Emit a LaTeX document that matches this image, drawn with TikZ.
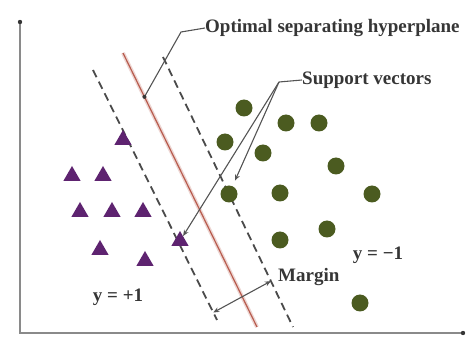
\documentclass[tikz,border=0pt]{standalone}
\usepackage{fontspec}
\setmainfont{Liberation Serif}
\usetikzlibrary{arrows.meta,calc,shapes.geometric}
\definecolor{tri}{HTML}{5E2370}
\definecolor{dot}{HTML}{4B5B20}
\definecolor{ink}{HTML}{363636}
\definecolor{hyp}{HTML}{B85C4E}
\definecolor{axis}{HTML}{8A8A8A}
\tikzset{
  trimark/.style={regular polygon, regular polygon sides=3, fill=tri, inner sep=0pt, minimum size=20pt},
  dotmark/.style={circle, fill=dot, inner sep=0pt, minimum size=17pt},
  margline/.style={draw=ink!90, line width=1.8pt, dash pattern=on 8pt off 5pt},
  hypline/.style={draw=hyp, line width=1.2pt},
  leader/.style={draw=ink!85, line width=1.1pt},
  lbl/.style={text=ink, font=\fontsize{19}{22}\selectfont\bfseries, inner sep=0pt},
  axline/.style={draw=axis, line width=1.8pt}
}
\begin{document}
\begin{tikzpicture}[x=1pt,y=1pt]
\useasboundingbox (0,0) rectangle (467,338);
% axes
\coordinate (o) at (20,5);
\coordinate (ytop) at (20,316);
\coordinate (xend) at (463,5);
\draw[axline] (ytop) -- (o) -- (xend);
\fill[ink] (ytop) circle (2.2pt);
\fill[ink] (xend) circle (2.2pt);
% lines
\coordinate (l1) at (93,268);  \coordinate (l2) at (217,18);
\coordinate (r1) at (123,285); \coordinate (r2) at (257,11);
\coordinate (d1) at (163,281); \coordinate (d2) at (293,11);
\draw[hyp!25, line width=4pt] (r1) -- (r2);
\draw[hypline] (r1) -- (r2);
\draw[margline] (l1) -- (l2);
\draw[margline] (d1) -- (d2);
% triangles
\node[trimark] (t1) at (123,198) {};
\node[trimark] (t2) at (72,162) {};
\node[trimark] (t3) at (103,162) {};
\node[trimark] (t4) at (80,126) {};
\node[trimark] (t5) at (112,126) {};
\node[trimark] (t6) at (143,126) {};
\node[trimark] (t7) at (100,88) {};
\node[trimark] (t8) at (145,77) {};
\node[trimark] (t9) at (180,97) {};
% circles
\node[dotmark] (c1) at (244,230) {};
\node[dotmark] (c2) at (286,215) {};
\node[dotmark] (c3) at (319,215) {};
\node[dotmark] (c4) at (225,196) {};
\node[dotmark] (c5) at (263,185) {};
\node[dotmark] (c6) at (336,172) {};
\node[dotmark] (c7) at (229,144) {};
\node[dotmark] (c8) at (280,145) {};
\node[dotmark] (c9) at (372,144) {};
\node[dotmark] (c10) at (327,109) {};
\node[dotmark] (c11) at (280,98) {};
\node[dotmark] (c12) at (360,35) {};
% hyperplane label
\node[lbl, anchor=west] (hl) at (205,310) {Optimal separating hyperplane};
\coordinate (hk) at (181,306);
\coordinate (hp) at ($(r1)!0.16!(r2)$);
\draw[leader] (hl.west) -- (hk) -- (hp);
\fill[ink] (hp) circle (2pt);
% support vectors label
\node[lbl, anchor=west] (sl) at (302,258) {Support vectors};
\coordinate (sk) at (279,256);
\draw[leader] (sl.west) -- (sk);
\draw[leader, -{Stealth[length=6pt,width=5pt]}] (sk) -- (t9);
\draw[leader, -{Stealth[length=6pt,width=5pt]}, shorten >=6pt] (sk) -- (c7);
% margin
\coordinate (m1) at ($(l1)!0.97!(l2)$);
\coordinate (m2) at ($(d1)!0.83!(d2)$);
\draw[leader, {Stealth[length=6pt,width=5pt]}-{Stealth[length=6pt,width=5pt]}] (m1) -- (m2);
\node[lbl, anchor=west] (ml) at (278,61) {Margin};
% class labels
\node[lbl] (yp) at (118,41) {y = +1};
\node[lbl] (ym) at (378,83) {y = −1};
\end{tikzpicture}
\end{document}
